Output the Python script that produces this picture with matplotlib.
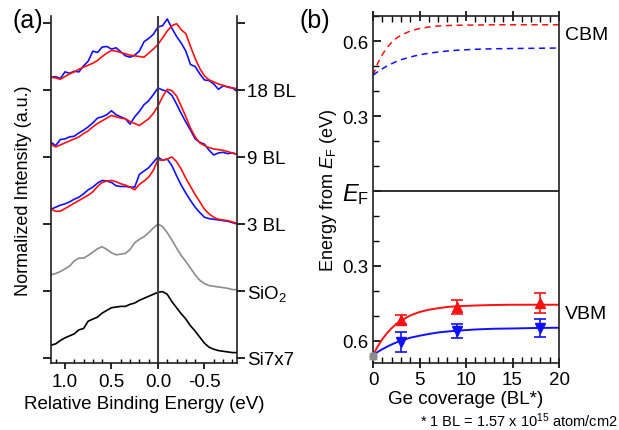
import numpy as np
import matplotlib
matplotlib.use("Agg")
from matplotlib import pyplot as plt
from matplotlib.ticker import MultipleLocator
import matplotlib.transforms as mtransforms

plt.rcParams['font.family'] = ['Liberation Sans', 'DejaVu Sans']
plt.rcParams['mathtext.fontset'] = 'custom'
plt.rcParams['mathtext.rm'] = 'Liberation Sans'
plt.rcParams['mathtext.it'] = 'Liberation Sans:italic'

# ---- panel (a): valence band spectra (normalized) ----
energy = np.linspace(1.15, -0.85, 41)  # relative binding energy grid (eV)

si7x7 = [0.19, 0.21, 0.26, 0.30, 0.33, 0.36, 0.42, 0.44, 0.55, 0.58, 0.61, 0.67, 0.71, 0.75,
         0.76, 0.77, 0.77, 0.80, 0.82, 0.86, 0.89, 0.92, 0.95, 0.98, 0.99, 0.95, 0.84, 0.75,
         0.66, 0.58, 0.48, 0.40, 0.31, 0.22, 0.16, 0.13, 0.11, 0.10, 0.09, 0.08, 0.08]
sio2 = [0.24, 0.26, 0.29, 0.33, 0.37, 0.45, 0.49, 0.49, 0.53, 0.58, 0.63, 0.66, 0.62, 0.57,
        0.54, 0.55, 0.56, 0.62, 0.72, 0.77, 0.81, 0.87, 0.94, 1.00, 0.96, 0.87, 0.76, 0.64,
        0.53, 0.44, 0.34, 0.24, 0.16, 0.11, 0.08, 0.07, 0.06, 0.05, 0.04, 0.02, 0.02]
bl3_blue = [0.22, 0.25, 0.28, 0.30, 0.33, 0.37, 0.40, 0.45, 0.51, 0.55, 0.61, 0.65, 0.64, 0.62,
            0.57, 0.56, 0.56, 0.55, 0.55, 0.74, 0.79, 0.84, 0.92, 1.00, 0.95, 0.97, 0.87, 0.72,
            0.58, 0.46, 0.35, 0.25, 0.17, 0.10, 0.08, 0.07, 0.06, 0.05, 0.04, 0.02, 0.00]
bl3_red = [0.22, 0.19, 0.19, 0.23, 0.27, 0.31, 0.35, 0.39, 0.43, 0.48, 0.56, 0.62, 0.64, 0.65,
           0.63, 0.60, 0.58, 0.55, 0.51, 0.59, 0.64, 0.70, 0.80, 0.96, 0.95, 0.97, 1.00, 0.93,
           0.82, 0.68, 0.56, 0.44, 0.33, 0.22, 0.15, 0.10, 0.07, 0.06, 0.05, 0.03, 0.01]
bl9_blue = [0.22, 0.17, 0.26, 0.27, 0.30, 0.31, 0.36, 0.40, 0.45, 0.51, 0.58, 0.60, 0.63, 0.69,
            0.63, 0.60, 0.57, 0.49, 0.60, 0.68, 0.78, 0.84, 0.93, 1.03, 1.00, 0.98, 0.92, 0.79,
            0.65, 0.52, 0.40, 0.27, 0.22, 0.19, 0.10, 0.03, 0.06, 0.07, 0.05, 0.06, 0.04]
bl9_red = [0.19, 0.15, 0.18, 0.21, 0.24, 0.27, 0.30, 0.35, 0.39, 0.45, 0.50, 0.54, 0.58, 0.62,
           0.60, 0.58, 0.57, 0.53, 0.50, 0.47, 0.52, 0.57, 0.65, 0.76, 0.90, 1.01, 0.99, 0.91,
           0.76, 0.60, 0.43, 0.30, 0.21, 0.17, 0.14, 0.12, 0.11, 0.10, 0.08, 0.06, 0.04]
bl18_blue = [0.19, 0.20, 0.17, 0.27, 0.25, 0.28, 0.27, 0.36, 0.43, 0.58, 0.56, 0.64, 0.65, 0.61,
             0.63, 0.57, 0.51, 0.49, 0.52, 0.58, 0.72, 0.77, 0.83, 0.94, 0.96, 1.06, 0.92, 0.80,
             0.70, 0.58, 0.38, 0.35, 0.24, 0.15, 0.14, 0.09, 0.01, 0.06, 0.05, 0.03, -0.02]
bl18_red = [0.19, 0.18, 0.16, 0.20, 0.24, 0.27, 0.31, 0.34, 0.37, 0.40, 0.44, 0.50, 0.55, 0.59,
            0.58, 0.56, 0.54, 0.52, 0.51, 0.50, 0.49, 0.55, 0.61, 0.68, 0.78, 0.88, 0.96, 0.99,
            0.90, 0.84, 0.65, 0.47, 0.32, 0.21, 0.15, 0.12, 0.09, 0.07, 0.04, 0.03, 0.02]

spec_labels = ['Si7x7', 'SiO$_2$', '3 BL', '9 BL', '18 BL']

# ---- panel (b): band edges vs Ge coverage ----
cov_pts = [3, 9, 18]
vbm_red = [-0.516, -0.464, -0.448]
vbm_red_err = [0.018, 0.028, 0.040]
vbm_blue = [-0.605, -0.560, -0.548]
vbm_blue_err = [0.040, 0.028, 0.036]
clean_cov = [0]
clean_vbm = [-0.660]
clean_err = [0.012]

fit_cov = [0, 0.5, 1, 1.5, 2, 2.5, 3, 4, 5, 6, 7, 8, 9, 11, 13, 15, 17.5, 20]
fit_vbm_red = [-0.657, -0.622, -0.593, -0.569, -0.549, -0.532, -0.519, -0.498, -0.484, -0.475,
               -0.469, -0.464, -0.461, -0.458, -0.456, -0.455, -0.455, -0.455]
fit_vbm_blue = [-0.657, -0.644, -0.633, -0.623, -0.614, -0.606, -0.599, -0.587, -0.579, -0.572,
                -0.566, -0.562, -0.559, -0.554, -0.551, -0.550, -0.548, -0.547]
fit_cbm_red = [0.463, 0.510, 0.546, 0.573, 0.595, 0.611, 0.623, 0.640, 0.650, 0.656,
               0.660, 0.662, 0.663, 0.664, 0.665, 0.665, 0.665, 0.665]
fit_cbm_blue = [0.463, 0.477, 0.489, 0.500, 0.509, 0.518, 0.525, 0.536, 0.545, 0.551,
                0.556, 0.560, 0.563, 0.567, 0.569, 0.570, 0.571, 0.572]

RED = '#ff1010'
BLUE = '#1010ff'
GRAY = '#8c8c8c'
FS = 13.5

fig = plt.figure(figsize=(6.19, 4.31), dpi=100)

# ----------------- (a) -----------------
ax1 = fig.add_axes([0.0824, 0.1555, 0.3005, 0.805])
spectra = [(si7x7, None), (sio2, None), (bl3_blue, bl3_red), (bl9_blue, bl9_red), (bl18_blue, bl18_red)]
for k, (c1, c2) in enumerate(spectra):
    if c2 is None:
        col = 'black' if k == 0 else GRAY
        ax1.plot(energy, np.array(c1) + k, color=col, lw=1.2)
    else:
        ax1.plot(energy, np.array(c1) + k, color=BLUE, lw=1.2)
        ax1.plot(energy, np.array(c2) + k, color=RED, lw=1.2)
ax1.axvline(0, color='#404040', lw=1.5)
ax1.set_xlim(1.15, -0.85)
ax1.set_ylim(-0.075, 5.104)
ax1.set_yticks(range(6))
ax1.tick_params(axis='y', direction='out', length=6, width=1.2, left=True, right=True,
                labelright=True, labelleft=False, labelsize=FS, pad=1)
ax1.set_yticklabels(spec_labels + [''])
ax1.xaxis.set_minor_locator(MultipleLocator(0.1))
ax1.set_xticks([1.0, 0.5, 0.0, -0.5])
ax1.set_xticklabels(['1.0', '0.5', '0.0', '-0.5'])
ax1.tick_params(axis='x', which='major', direction='out', length=4, width=1.2, labelsize=FS, pad=3)
ax1.tick_params(axis='x', which='minor', direction='in', length=3, width=1.0)
ax1.set_xlabel('Relative Binding Energy (eV)', fontsize=FS, labelpad=4)
ax1.set_ylabel('Normalized Intensity (a.u.)', fontsize=13, labelpad=8)
for s in ax1.spines.values():
    s.set_linewidth(1.2)
    s.set_color('#202020')
ax1.spines['top'].set_visible(False)
fig.text(0.020, 0.952, '(a)', fontsize=18, va='center')

# ----------------- (b) -----------------
ax2 = fig.add_axes([0.6026, 0.1555, 0.3005, 0.805])
ax2.plot(fit_cov, fit_cbm_red, color=RED, lw=1.1, ls=(0, (4, 3)))
ax2.plot(fit_cov, fit_cbm_blue, color=BLUE, lw=1.1, ls=(0, (4, 3)))
ax2.plot(fit_cov, fit_vbm_red, color=RED, lw=1.4)
ax2.plot(fit_cov, fit_vbm_blue, color=BLUE, lw=1.4)
ax2.errorbar(cov_pts, vbm_red, yerr=vbm_red_err, fmt='^', color=RED, ms=7, capsize=4,
             elinewidth=1.2, capthick=1.2, clip_on=False, zorder=4)
ax2.errorbar(cov_pts, vbm_blue, yerr=vbm_blue_err, fmt='v', color=BLUE, ms=7, capsize=4,
             elinewidth=1.2, capthick=1.2, clip_on=False, zorder=4)
ax2.errorbar(clean_cov, clean_vbm, yerr=clean_err, fmt='o', color=GRAY, ms=5, capsize=3,
             elinewidth=1.0, clip_on=False, zorder=5)
ax2.axhline(0, color='#202020', lw=1.3)
ax2.set_xlim(0, 20)
ax2.set_ylim(-0.688, 0.70)
ax2.set_xticks([0, 5, 10, 15, 20])
ax2.xaxis.set_minor_locator(MultipleLocator(1))
ax2.set_yticks([-0.6, -0.3, 0, 0.3, 0.6])
ax2.set_yticklabels(['0.6', '0.3', r'$\mathit{E}_\mathregular{F}$', '0.3', '0.6'])
ax2.yaxis.set_minor_locator(MultipleLocator(0.1))
ax2.tick_params(axis='y', which='major', direction='in', length=6, width=1.2, labelsize=FS, pad=3)
ax2.tick_params(axis='y', which='minor', direction='in', length=4, width=1.0)
ax2.get_yticklabels()[2].set_fontsize(17)
ax2.tick_params(axis='x', which='major', direction='inout', length=7, width=1.2, labelsize=FS,
                pad=2, top=True)
ax2.tick_params(axis='x', which='minor', direction='in', length=4, width=1.0, top=True)
ax2.set_xlabel('Ge coverage (BL*)', fontsize=FS, labelpad=2)
ax2.set_ylabel(r'Energy from $\mathit{E}_\mathregular{F}$ (eV)', fontsize=13, labelpad=2)
for s in ax2.spines.values():
    s.set_linewidth(1.2)
    s.set_color('#202020')
trans = mtransforms.blended_transform_factory(ax2.transAxes, ax2.transData)
ax2.text(1.03, 0.625, 'CBM', transform=trans, fontsize=14, va='center')
ax2.text(1.03, -0.49, 'VBM', transform=trans, fontsize=14, va='center')
fig.text(0.484, 0.952, '(b)', fontsize=18, va='center')
fig.text(0.998, 0.002, r'* 1 BL = 1.57 x 10$^{15}$ atom/cm2', fontsize=10.5, ha='right', va='bottom')

fig.savefig('out.png', dpi=100)
